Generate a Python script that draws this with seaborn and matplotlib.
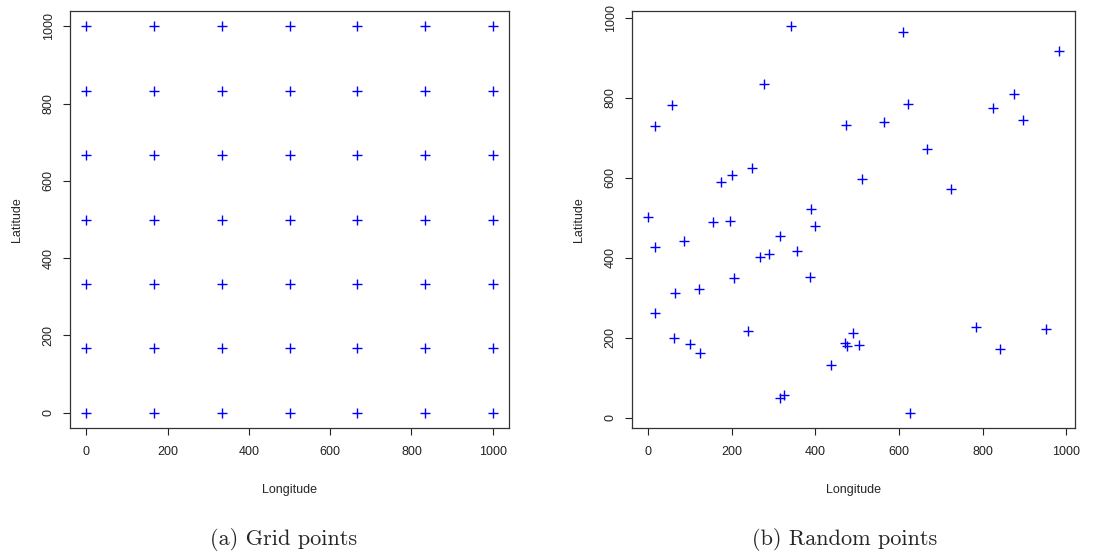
import numpy as np
import pandas as pd
import seaborn as sns
import matplotlib.pyplot as plt

# --- Data ---
grid_vals = [0, 166.67, 333.33, 500, 666.67, 833.33, 1000]

rand_lon = [342, 609, 982, 277, 56, 15, 621, 474, 565, 826, 875, 898, 666, 511, 725,
            247, 200, 173, 0, 154, 196, 389, 400, 314, 86, 15, 267, 289, 357, 387,
            206, 122, 64, 16, 238, 61, 100, 124, 471, 475, 491, 505, 437, 316, 325,
            626, 785, 841, 953]
rand_lat = [978, 964, 916, 835, 782, 729, 785, 732, 740, 773, 808, 744, 672, 597, 572,
            625, 607, 590, 502, 490, 491, 522, 479, 455, 441, 426, 403, 410, 416, 353,
            350, 323, 311, 263, 217, 200, 185, 161, 188, 180, 212, 183, 133, 49, 57,
            13, 228, 172, 221]

captions = ['(a) Grid points', '(b) Random points']

gx, gy = np.meshgrid(grid_vals, grid_vals)
grid_df = pd.DataFrame({'Longitude': gx.ravel(), 'Latitude': gy.ravel()})
rand_df = pd.DataFrame({'Longitude': rand_lon, 'Latitude': rand_lat})

sns.set_style('ticks')
plt.rcParams['font.family'] = ['Liberation Sans', 'DejaVu Sans']

fig = plt.figure(figsize=(10.96, 5.57), dpi=100)
ax1 = fig.add_axes([0.0639, 0.2316, 0.4005, 0.7486])
ax2 = fig.add_axes([0.5766, 0.2316, 0.4042, 0.7486])


def r_style(ax, df):
    sns.scatterplot(data=df, x='Longitude', y='Latitude', ax=ax, marker='+',
                    color='blue', s=60, linewidth=1.0)
    # R-like 4% padding
    for axis, col in (('x', 'Longitude'), ('y', 'Latitude')):
        lo, hi = df[col].min(), df[col].max()
        pad = 0.04 * (hi - lo)
        getattr(ax, f'set_{axis}lim')(lo - pad, hi + pad)
    ax.set_xticks([0, 200, 400, 600, 800, 1000])
    ax.set_yticks([0, 200, 400, 600, 800, 1000])
    ax.tick_params(direction='out', length=5, width=0.8, labelsize=9, colors='#222222')
    ax.tick_params(axis='x', pad=8)
    ax.tick_params(axis='y', pad=6)
    for lab in ax.get_yticklabels():
        lab.set_rotation(90)
        lab.set_va('center')
    for sp in ax.spines.values():
        sp.set_visible(True)
        sp.set_color('#333333')
        sp.set_linewidth(0.9)
    ax.set_xlabel('Longitude', fontsize=9, labelpad=19)
    ax.set_ylabel('Latitude', fontsize=9, labelpad=14)


r_style(ax1, grid_df)
r_style(ax2, rand_df)

fig.text(0.259, 0.0215, captions[0], ha='center', va='baseline', fontsize=16, family='cmr10')
fig.text(0.771, 0.0215, captions[1], ha='center', va='baseline', fontsize=16, family='cmr10')

fig.savefig('out.png', dpi=100)
